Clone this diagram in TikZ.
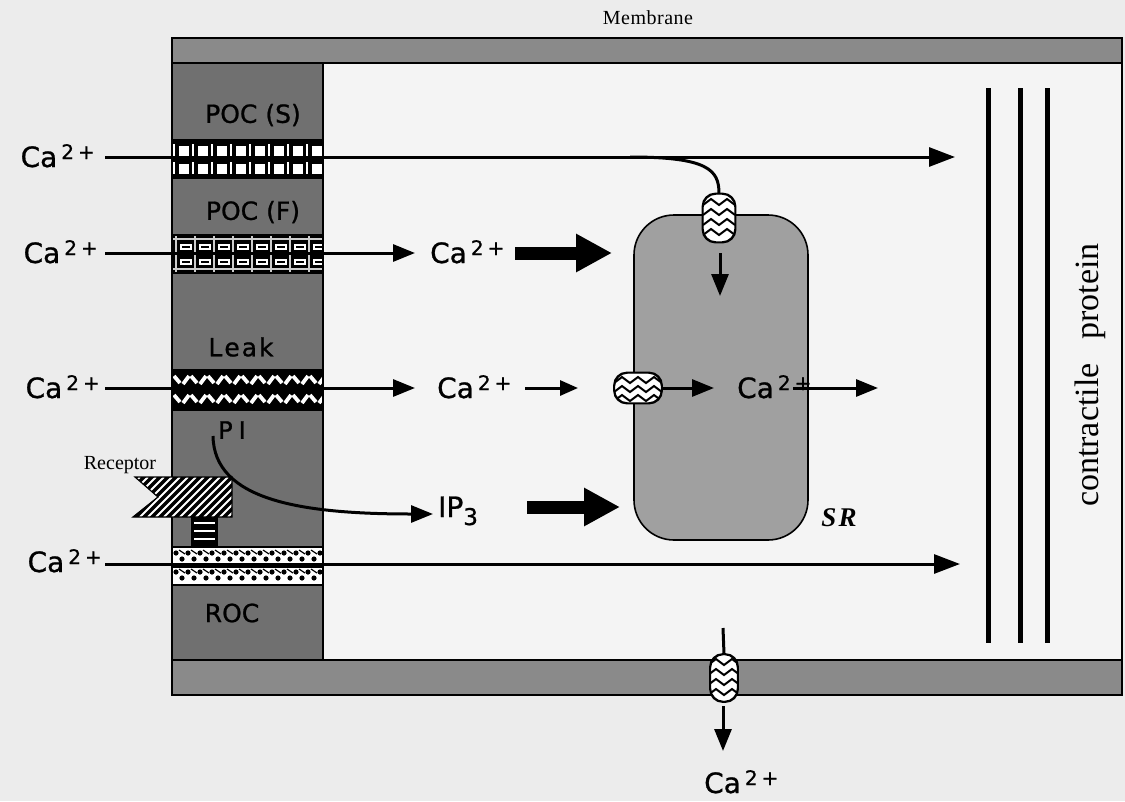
\documentclass[tikz,border=0pt]{standalone}
\usepackage{fontspec}
\setmainfont{Liberation Serif}
\newfontfamily\sansf[FakeBold=0.9]{DejaVu Sans}
\usetikzlibrary{arrows.meta,calc}
\definecolor{bgc}{RGB}{236,236,236}
\definecolor{memc}{RGB}{138,138,138}
\definecolor{colc}{RGB}{112,112,112}
\definecolor{src}{RGB}{160,160,160}
\newcommand{\caion}{Ca\hspace{4pt}\raisebox{8pt}{\fontsize{20}{20}\selectfont 2\hspace{4pt}+}}
\begin{document}
\begin{tikzpicture}[x=1pt,y=-1pt,
  ca/.style={font=\sansf\fontsize{28}{30}\selectfont, inner sep=0pt},
  chlab/.style={font=\sansf\fontsize{25}{27}\selectfont, inner sep=0pt},
  thinarr/.style={line width=3pt, -{Triangle[length=22pt,width=17pt]}},
  fatarr/.style={line width=13pt, -{Triangle[length=36pt,width=36pt]}},
  chanbox/.style={draw, line width=1.4pt, fill=white, rounded corners=13pt, inner sep=0pt}]
\useasboundingbox (0,0) rectangle (1125,801);
\fill[bgc] (0,0) rectangle (1125,801);
% cell
\fill[white!40!bgc] (172,38) rectangle (1122,695);
\draw[line width=1.6pt] (172,38) rectangle (1122,695);
\draw[line width=1.6pt, fill=memc] (172,38) rectangle (1122,63);
\draw[line width=1.6pt, fill=memc] (172,660) rectangle (1122,695);
\draw[line width=1.6pt, fill=colc] (172,63) rectangle (323,660);
\node[font=\fontsize{20}{22}\selectfont, inner sep=0pt] (memb) at (648,18) {M\kern0.5pt e\kern0.5pt m\kern0.5pt b\kern0.5pt r\kern0.5pt a\kern0.5pt n\kern0.5pt e};
% channel labels
\node[chlab] (pocs) at (253,115) {POC\hspace{8pt}(S)};
\node[chlab] (pocf) at (253,212) {POC\hspace{8pt}(F)};
\node[chlab] (leak) at (241,347) {L\kern2pt e\kern2pt a\kern2pt k};
\node[chlab] (roc) at (232,613) {ROC};
\node[font=\sansf\fontsize{24}{24}\selectfont, inner sep=0pt] (pi) at (232,430) {P\hspace{6pt}I};
% POC(S) band
\fill[black] (172,140) rectangle (323,178);
\foreach \i in {0,...,7}{
  \foreach \yy in {144,162}{
    \draw[white, line width=1.2pt] (174+\i*19,\yy) -- (174+\i*19,\yy+12);
    \draw[black, line width=1pt, fill=white] (178+\i*19,\yy+1) rectangle (189+\i*19,\yy+12);
  }
}
\draw[line width=1.4pt] (172,140) rectangle (323,178);
% POC(F) band
\fill[black] (172,235) rectangle (323,273);
\foreach \yy in {239,254,269}{\draw[white!80!black, line width=1.3pt] (172,\yy) -- (323,\yy);}
\foreach \i in {0,...,7}{
  \draw[white!80!black, line width=1.3pt] (176+\i*19,235) -- (176+\i*19,273);
  \foreach \yy in {245,260}{
    \draw[white, line width=1.2pt] (181+\i*19,\yy) rectangle (191+\i*19,\yy+4);
  }
}
\draw[line width=1.4pt] (172,235) rectangle (323,273);
% Leak band
\fill[black] (172,370) rectangle (323,410);
\begin{scope}
\clip (172,370) rectangle (323,410);
\foreach \i in {0,...,9}{
  \foreach \yy in {380,399}{
    \draw[white, line width=3.8pt] (174+\i*17,\yy-4) -- (180+\i*17,\yy+3);
    \draw[white, line width=3.8pt] (183+\i*17,\yy+4) -- (189+\i*17,\yy-4);
  }
}
\end{scope}
\draw[line width=1.4pt] (172,370) rectangle (323,410);
% ROC band
\fill[white] (172,547) rectangle (323,585);
\begin{scope}
\clip (172,547) rectangle (323,585);
\foreach \i in {0,...,12}{
  \foreach \yy in {556,575}{
    \fill[black] (176+\i*12,\yy-3) circle (2.6pt);
    \fill[black] (182+\i*12,\yy+3) circle (2.6pt);
    \draw[black, line width=1.2pt] (179+\i*12,\yy-6) -- (185+\i*12,\yy-2);
  }
}
\end{scope}
\draw[line width=3pt] (172,566) -- (323,566);
\draw[line width=1.4pt] (172,547) rectangle (323,585);
% receptor
\draw[line width=1.2pt, fill=black] (192,517) rectangle (217,545);
\foreach \yy in {523,531,539}{\draw[white, line width=2.4pt] (194,\yy) -- (215,\yy);}
\begin{scope}
\clip (135,477) -- (232,477) -- (232,517) -- (133,517) -- (158,497) -- cycle;
\fill[black] (120,470) rectangle (240,520);
\foreach \i in {0,...,18}{\draw[white, line width=2pt] (100+\i*8,517) -- (140+\i*8,477);}
\end{scope}
\draw[line width=1.2pt] (135,477) -- (232,477) -- (232,517) -- (133,517) -- (158,497) -- cycle;
\node[font=\fontsize{20}{22}\selectfont, inner sep=0pt] (recept) at (120,465) {Receptor};
% SR
\node[draw, line width=1.6pt, fill=src, rounded corners=40pt, minimum width=174pt, minimum height=325pt, inner sep=0pt] (sr) at (721,377.5) {};
\node[font=\bfseries\itshape\fontsize{27}{29}\selectfont, inner sep=0pt] (srlab) at (839,518) {S\kern2pt R};
% contractile protein
\foreach \xx in {988,1020,1047}{\draw[line width=5pt] (\xx,88) -- (\xx,643);}
\node[rotate=90, font=\fontsize{34}{36}\selectfont, inner sep=0pt] (cprot) at (1090,375) {contractile\hspace{24pt}protein};
% Ca labels left
\node[ca, anchor=base east] (ca1) at (95,167) {\caion};
\node[ca, anchor=base east] (ca2) at (98,263) {\caion};
\node[ca, anchor=base east] (ca3) at (100,398) {\caion};
\node[ca, anchor=base east] (ca4) at (102,572) {\caion};
% middle labels
\node[ca, anchor=base west] (ca5) at (430,263) {\caion};
\node[ca, anchor=base west] (ca6) at (437,398) {\caion};
\node[ca, anchor=base west] (ca7) at (737,398) {\caion};
\node[ca, anchor=base west] (ca8) at (704,793) {\caion};
\node[ca, anchor=base west] (ip3) at (438,517) {IP\raisebox{-8pt}{\fontsize{23}{23}\selectfont 3}};
% channels on SR and membrane
\node[chanbox, minimum width=32pt, minimum height=48pt] (chtop) at (719,218) {};
\node[chanbox, minimum width=47pt, minimum height=30pt] (chside) at (638,388) {};
\node[chanbox, minimum width=27pt, minimum height=47pt] (chbot) at (724,678) {};
\begin{scope}
\clip[rounded corners=13pt] (chtop.south west) rectangle (chtop.north east);
\foreach \k in {-16,-6,4,14}{\draw[line width=2pt] ($(chtop)+(-16,\k+3)$) -- ++(8,-6) -- ++(8,6) -- ++(8,-6) -- ++(8,6);}
\end{scope}
\draw[line width=1.4pt, rounded corners=13pt] (chtop.south west) rectangle (chtop.north east);
\begin{scope}
\clip[rounded corners=13pt] (chside.south west) rectangle (chside.north east);
\foreach \k in {-8,1,10}{\draw[line width=2pt] ($(chside)+(-24,\k+3)$) -- ++(8,-6) -- ++(8,6) -- ++(8,-6) -- ++(8,6) -- ++(8,-6) -- ++(8,6);}
\end{scope}
\draw[line width=1.4pt, rounded corners=13pt] (chside.south west) rectangle (chside.north east);
\begin{scope}
\clip[rounded corners=13pt] (chbot.south west) rectangle (chbot.north east);
\foreach \k in {-16,-6,4,14}{\draw[line width=2pt] ($(chbot)+(-16,\k+3)$) -- ++(8,-6) -- ++(8,6) -- ++(8,-6) -- ++(8,6);}
\end{scope}
\draw[line width=1.4pt, rounded corners=13pt] (chbot.south west) rectangle (chbot.north east);
% coordinates
\coordinate (r1s) at (105,157);
\coordinate (r1e) at (955,157);
\coordinate (r1b) at (630,157);
\coordinate (r2s) at (105,253);
\coordinate (r2e) at (415,253);
\coordinate (r3s) at (105,388);
\coordinate (r3e) at (415,388);
\coordinate (r4s) at (105,564);
\coordinate (r4e) at (960,564);
\coordinate (f2s) at (515,253);
\coordinate (f2e) at (612,253);
\coordinate (s3s) at (525,388);
\coordinate (s3e) at (578,388);
\coordinate (sr1s) at (720,253);
\coordinate (sr1e) at (720,296);
\coordinate (sr2e) at (714,388);
\coordinate (out1s) at (793,388);
\coordinate (out1e) at (878,388);
\coordinate (fipe) at (620,507);
\coordinate (fips) at (527,507);
\coordinate (pis) at (213,436);
\coordinate (pie) at (433,514);
\coordinate (bt) at (723,628);
\coordinate (bas) at (723,706);
\coordinate (bae) at (723,751);
% connectors
\draw[thinarr, -{Triangle[length=26pt,width=19pt]}] (r1s) -- (r1e);
\draw[line width=3pt] (r1b) .. controls (708,157) and (719,170) .. (chtop.north);
\draw[thinarr] (r2s) -- (r2e);
\draw[thinarr] (r3s) -- (r3e);
\draw[thinarr, -{Triangle[length=26pt,width=19pt]}] (r4s) -- (r4e);
\draw[fatarr] (f2s) -- (f2e);
\draw[fatarr] (fips) -- (fipe);
\draw[thinarr, -{Triangle[length=18pt,width=15pt]}] (s3s) -- (s3e);
\draw[thinarr] (sr1s) -- (sr1e);
\draw[thinarr] (chside.east) -- (sr2e);
\draw[thinarr] (out1s) -- (out1e);
\draw[thinarr] (pis) .. controls (214,500) and (300,514) .. (pie);
\draw[line width=3pt] (bt) -- (chbot.north);
\draw[thinarr] (bas) -- (bae);
\end{tikzpicture}
\end{document}
